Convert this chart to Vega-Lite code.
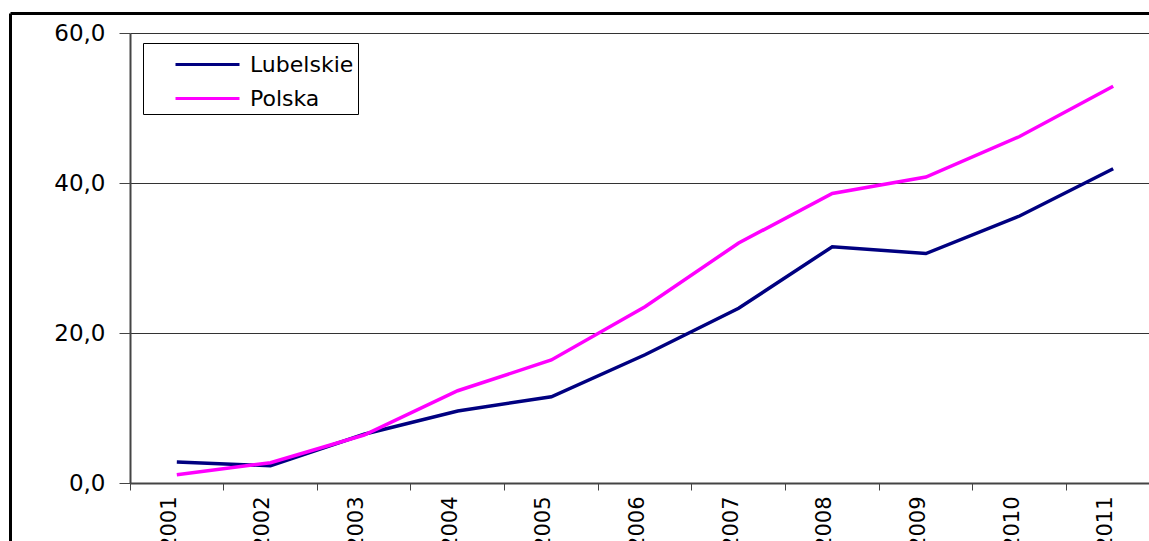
{
  "$schema": "https://vega.github.io/schema/vega-lite/v6.json",
  "width": 1019,
  "height": 450,
  "autosize": {"type": "none"},
  "padding": {"left": 130, "top": 33, "right": 0, "bottom": 58},
  "background": "white",
  "config": {
    "view": {"stroke": null},
    "font": "DejaVu Sans",
    "axis": {"labelFont": "DejaVu Sans", "labelColor": "black"},
    "legend": {"labelFont": "DejaVu Sans", "labelColor": "black"}
  },
  "data": {
    "values": [
      {"year": "2001", "series": "Lubelskie", "value": 2.8},
      {"year": "2002", "series": "Lubelskie", "value": 2.3},
      {"year": "2003", "series": "Lubelskie", "value": 6.5},
      {"year": "2004", "series": "Lubelskie", "value": 9.6},
      {"year": "2005", "series": "Lubelskie", "value": 11.5},
      {"year": "2006", "series": "Lubelskie", "value": 17.1},
      {"year": "2007", "series": "Lubelskie", "value": 23.3},
      {"year": "2008", "series": "Lubelskie", "value": 31.5},
      {"year": "2009", "series": "Lubelskie", "value": 30.6},
      {"year": "2010", "series": "Lubelskie", "value": 35.6},
      {"year": "2011", "series": "Lubelskie", "value": 41.9},
      {"year": "2001", "series": "Polska", "value": 1.1},
      {"year": "2002", "series": "Polska", "value": 2.7},
      {"year": "2003", "series": "Polska", "value": 6.4},
      {"year": "2004", "series": "Polska", "value": 12.3},
      {"year": "2005", "series": "Polska", "value": 16.4},
      {"year": "2006", "series": "Polska", "value": 23.5},
      {"year": "2007", "series": "Polska", "value": 32.0},
      {"year": "2008", "series": "Polska", "value": 38.6},
      {"year": "2009", "series": "Polska", "value": 40.8},
      {"year": "2010", "series": "Polska", "value": 46.2},
      {"year": "2011", "series": "Polska", "value": 52.9}
    ]
  },
  "layer": [
    {
      "mark": {"type": "line", "strokeWidth": 3.5},
      "encoding": {
        "x": {
          "field": "year",
          "type": "ordinal",
          "scale": {"type": "band", "range": [0, 1030], "paddingInner": 0, "paddingOuter": 0},
          "axis": {
            "title": null,
            "orient": "bottom",
            "bandPosition": 0,
            "labelAngle": -90,
            "labelOffset": -7,
            "labelPadding": 6,
            "labelFontSize": 21,
            "tickSize": 7,
            "tickColor": "#444",
            "domainColor": "#444",
            "domainWidth": 2,
            "grid": false
          }
        },
        "y": {
          "field": "value",
          "type": "quantitative",
          "scale": {"domain": [0, 60], "nice": false},
          "axis": {
            "title": null,
            "orient": "left",
            "values": [0, 20, 40, 60],
            "labelExpr": "replace(format(datum.value, '.1f'), '.', ',')",
            "labelFontSize": 23,
            "labelPadding": 14,
            "tickSize": 11,
            "tickColor": "#444",
            "domainColor": "#444",
            "domainWidth": 2,
            "grid": true,
            "gridColor": "#333",
            "gridWidth": 1
          }
        },
        "color": {
          "field": "series",
          "type": "nominal",
          "scale": {"domain": ["Lubelskie", "Polska"], "range": ["#000080", "#FF00FF"]},
          "legend": {
            "title": null,
            "orient": "none",
            "legendX": 13,
            "legendY": 10,
            "strokeColor": "black",
            "fillColor": "white",
            "padding": 4,
            "symbolType": "M-2,0H2",
            "symbolSize": 1024,
            "symbolStrokeWidth": 3,
            "symbolOffset": 43,
            "labelOffset": 25,
            "labelFontSize": 22,
            "rowPadding": 5
          }
        }
      }
    },
    {
      "mark": {"type": "point", "opacity": 0},
      "encoding": {
        "x": {
          "field": "value",
          "type": "quantitative",
          "scale": {"range": [-120, 1100]},
          "axis": {"orient": "top", "offset": 20, "domainColor": "black", "domainWidth": 3, "ticks": false, "labels": false, "grid": false, "title": null}
        },
        "y": {
          "field": "value",
          "type": "quantitative",
          "scale": {"range": [600, -20]},
          "axis": {"orient": "left", "offset": 120, "domainColor": "black", "domainWidth": 3, "ticks": false, "labels": false, "grid": false, "title": null}
        }
      }
    }
  ],
  "resolve": {
    "scale": {"x": "independent", "y": "independent"},
    "axis": {"x": "independent", "y": "independent"}
  }
}
